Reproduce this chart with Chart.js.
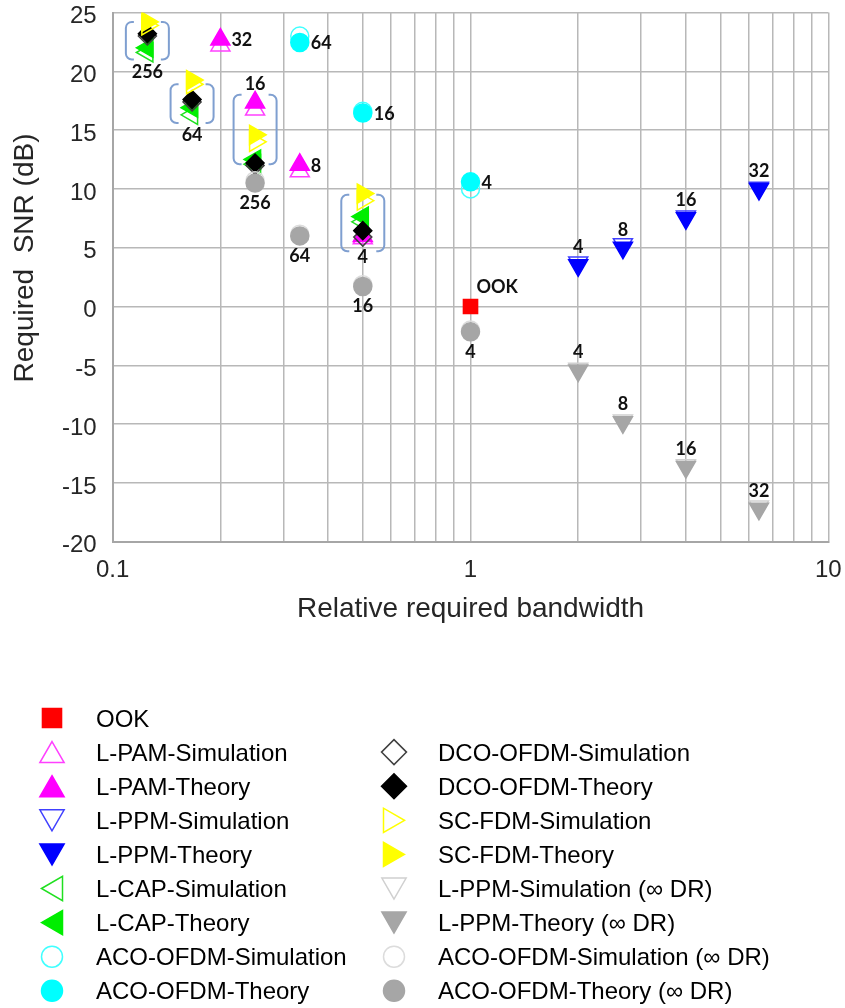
<!DOCTYPE html>
<html>
<head>
<meta charset="utf-8">
<script src="https://cdn.jsdelivr.net/npm/chart.js"></script>
<style>
  html, body { margin: 0; padding: 0; background: #fff; }
  #chart { display: block; }
</style>
</head>
<body>
<canvas id="chart" width="845" height="1008"></canvas>
<script>
// relative bandwidth (x) and required SNR in dB (y) for each scheme
const ookBw = [1];
const ookSnr = [0];

const lpamBw = [0.2, 0.25, 1 / 3, 0.5];            // L = 32, 16, 8, 4
const lpamSim = [22.2, 16.75, 11.5, 5.8];
const lpamTheory = [22.7, 17.35, 12.05, 6.0];

const lppmBw = [2, 8 / 3, 4, 6.4];                 // L = 4, 8, 16, 32
const lppmSim = [3.75, 5.3, 7.65, 10.1];
const lppmTheory = [3.5, 5.0, 7.5, 10.0];

const qamBw = [0.125, 1 / 6, 0.25, 0.5];           // M = 256, 64, 16, 4
const lcapSim = [21.6, 16.3, 12.1, 7.2];
const lcapTheory = [22.0, 16.9, 12.5, 7.65];
const dcoSim = [23.0, 17.4, 12.0, 5.9];
const dcoTheory = [23.2, 17.6, 12.2, 6.45];
const scfdmSim = [23.9, 18.9, 14.0, 9.0];
const scfdmTheory = [24.2, 19.25, 14.6, 9.6];

const acoBw = [1 / 3, 0.5, 1];                     // M = 64, 16, 4
const acoSim = [23.0, 16.6, 10.0];
const acoTheory = [22.45, 16.45, 10.6];

const lppmInfSim = [-5.3, -9.7, -13.5, -17.0];     // same bandwidths as lppmBw
const lppmInfTheory = [-5.45, -9.85, -13.65, -17.2];

const acoInfBw = [0.25, 1 / 3, 0.5, 1];            // M = 256, 64, 16, 4
const acoInfSim = [10.7, 6.15, 1.85, -2.0];
const acoInfTheory = [10.5, 6.0, 1.7, -2.15];

// axis ticks
const bwTicks = [0.1, 0.2, 0.3, 0.4, 0.5, 0.6, 0.7, 0.8, 0.9, 1, 2, 3, 4, 5, 6, 7, 8, 9, 10];
const bwLabelled = [0.1, 1, 10];

// blue brackets grouping the QAM-based schemes
const bracketBw = qamBw;
const bracketTop = [24.2, 18.9, 18.0, 9.5];
const bracketBottom = [21.0, 15.6, 12.1, 4.7];

// modulation order tags
const orderTags = [
  { text: '256', x: qamBw[0], y: lcapSim[0], at: 'below' },
  { text: '64', x: qamBw[1], y: lcapSim[1], at: 'below' },
  { text: '16', x: lpamBw[1], y: lpamTheory[1], at: 'above' },
  { text: '4', x: qamBw[3], y: dcoSim[3], at: 'below' },
  { text: '32', x: lpamBw[0], y: lpamTheory[0], at: 'right' },
  { text: '8', x: lpamBw[2], y: lpamTheory[2], at: 'right' },
  { text: '64', x: acoBw[0], y: acoTheory[0], at: 'right' },
  { text: '16', x: acoBw[1], y: acoTheory[1], at: 'right' },
  { text: '4', x: acoBw[2], y: acoTheory[2], at: 'right' },
  { text: '256', x: acoInfBw[0], y: acoInfTheory[0], at: 'below' },
  { text: '64', x: acoInfBw[1], y: acoInfTheory[1], at: 'below' },
  { text: '16', x: acoInfBw[2], y: acoInfTheory[2], at: 'below' },
  { text: '4', x: acoInfBw[3], y: acoInfTheory[3], at: 'below' },
  { text: 'OOK', x: ookBw[0], y: ookSnr[0], at: 'aboveRight' },
  { text: '4', x: lppmBw[0], y: lppmTheory[0], at: 'above' },
  { text: '8', x: lppmBw[1], y: lppmTheory[1], at: 'above' },
  { text: '16', x: lppmBw[2], y: lppmTheory[2], at: 'above' },
  { text: '32', x: lppmBw[3], y: lppmTheory[3], at: 'above' },
  { text: '4', x: lppmBw[0], y: lppmInfTheory[0], at: 'above' },
  { text: '8', x: lppmBw[1], y: lppmInfTheory[1], at: 'above' },
  { text: '16', x: lppmBw[2], y: lppmInfTheory[2], at: 'above' },
  { text: '32', x: lppmBw[3], y: lppmInfTheory[3], at: 'above' }
];

const FONT = "'Liberation Sans', Arial, sans-serif";

function pts(xs, ys) {
  return xs.map((x, i) => ({ x: x, y: ys[i] }));
}

function series(label, xs, ys, style, rotation, fill, stroke, radius) {
  return {
    label: label,
    data: pts(xs, ys),
    pointStyle: style,
    rotation: rotation,
    pointRadius: radius,
    backgroundColor: fill,
    borderColor: stroke,
    borderWidth: 1.5,
    showLine: false
  };
}

const NONE = 'rgba(255,255,255,0)';
const datasets = [
  series('OOK', ookBw, ookSnr, 'rect', 0, '#ff0000', '#ff0000', 10),
  series('L-PAM-Simulation', lpamBw, lpamSim, 'triangle', 0, NONE, '#ff40ff', 11),
  series('L-PAM-Theory', lpamBw, lpamTheory, 'triangle', 0, '#ff00ff', '#ff00ff', 11),
  series('L-PPM-Simulation', lppmBw, lppmSim, 'triangle', 180, NONE, '#4040ff', 11),
  series('L-PPM-Theory', lppmBw, lppmTheory, 'triangle', 180, '#0000ff', '#0000ff', 11),
  series('L-CAP-Simulation', qamBw, lcapSim, 'triangle', 270, NONE, '#20e020', 11),
  series('L-CAP-Theory', qamBw, lcapTheory, 'triangle', 270, '#00ee00', '#00ee00', 11),
  series('ACO-OFDM-Simulation', acoBw, acoSim, 'circle', 0, NONE, '#40ffff', 9),
  series('ACO-OFDM-Theory', acoBw, acoTheory, 'circle', 0, '#00ffff', '#00ffff', 9),
  series('DCO-OFDM-Simulation', qamBw, dcoSim, 'rectRot', 0, NONE, '#404040', 9),
  series('DCO-OFDM-Theory', qamBw, dcoTheory, 'rectRot', 0, '#000000', '#000000', 9),
  series('SC-FDM-Simulation', qamBw, scfdmSim, 'triangle', 90, NONE, '#ffff00', 11),
  series('SC-FDM-Theory', qamBw, scfdmTheory, 'triangle', 90, '#ffff00', '#ffff00', 11),
  series('L-PPM-Simulation (\u221e DR)', lppmBw, lppmInfSim, 'triangle', 180, NONE, '#d0d0d0', 11),
  series('L-PPM-Theory (\u221e DR)', lppmBw, lppmInfTheory, 'triangle', 180, '#a6a6a6', '#a6a6a6', 11),
  series('ACO-OFDM-Simulation (\u221e DR)', acoInfBw, acoInfSim, 'circle', 0, NONE, '#dcdcdc', 9),
  series('ACO-OFDM-Theory (\u221e DR)', acoInfBw, acoInfTheory, 'circle', 0, '#a6a6a6', '#a6a6a6', 9)
];
// later series are painted on top
datasets.forEach((d, i) => { d.order = datasets.length - i; });

const bracketPlugin = {
  id: 'brackets',
  afterDatasetsDraw(chart) {
    const { ctx, scales: { x, y } } = chart;
    ctx.save();
    ctx.strokeStyle = '#7f9fd0';
    ctx.lineWidth = 2;
    const half = 21.5, arm = 8, r = 6;
    bracketBw.forEach((bw, i) => {
      const cx = x.getPixelForValue(bw);
      const top = y.getPixelForValue(bracketTop[i]);
      const bot = y.getPixelForValue(bracketBottom[i]);
      [-1, 1].forEach(side => {
        const ex = cx + side * half;
        const ix = ex - side * arm;
        ctx.beginPath();
        ctx.moveTo(ix, top);
        ctx.arcTo(ex, top, ex, top + r, r);
        ctx.lineTo(ex, bot - r);
        ctx.arcTo(ex, bot, ix, bot, r);
        ctx.lineTo(ix, bot);
        ctx.stroke();
      });
    });
    ctx.restore();
  }
};

const tagPlugin = {
  id: 'orderTags',
  afterDatasetsDraw(chart) {
    const { ctx, scales: { x, y } } = chart;
    ctx.save();
    ctx.fillStyle = '#111';
    ctx.font = "bold 18px Lato, 'Open Sans', sans-serif";
    ctx.textBaseline = 'middle';
    orderTags.forEach(t => {
      const px = x.getPixelForValue(t.x);
      const py = y.getPixelForValue(t.y);
      if (t.at === 'below') {
        ctx.textAlign = 'center';
        ctx.fillText(t.text, px, py + 20);
      } else if (t.at === 'above') {
        ctx.textAlign = 'center';
        ctx.fillText(t.text, px, py - 18);
      } else if (t.at === 'right') {
        ctx.textAlign = 'left';
        ctx.fillText(t.text, px + 11, py + 1);
      } else {
        ctx.textAlign = 'left';
        ctx.fillText(t.text, px + 6, py - 19);
      }
    });
    ctx.restore();
  }
};

const yTitlePlugin = {
  id: 'yTitle',
  afterDraw(chart) {
    const { ctx } = chart;
    ctx.save();
    ctx.translate(25, 258);
    ctx.rotate(-Math.PI / 2);
    ctx.font = '28px ' + FONT;
    ctx.fillStyle = '#262626';
    ctx.textAlign = 'center';
    ctx.textBaseline = 'middle';
    ctx.fillText('Required  SNR (dB)', 0, 0);
    ctx.restore();
  }
};

// two-column key below the plot
const keyLeft = [0, 1, 2, 3, 4, 5, 6, 7, 8];
const keyRight = [null, 9, 10, 11, 12, 13, 14, 15, 16];

const keyPlugin = {
  id: 'key',
  afterDraw(chart) {
    const { ctx } = chart;
    const sets = chart.data.datasets;
    const rowY = i => 718 + i * 34.1;
    const drawItem = (idx, mx, tx, ry) => {
      const d = sets[idx];
      let r = d.pointStyle === 'triangle' ? 14 : d.pointStyle === 'rect' ? 13.5 : d.pointStyle === 'rectRot' ? 12.5 : 10.5;
      let ox = 0, oy = 0;
      if (d.pointStyle === 'triangle') {
        if (d.rotation === 0) oy = r / 4;
        else if (d.rotation === 180) oy = -r / 4;
        else if (d.rotation === 90) ox = -r / 4;
        else ox = r / 4;
      }
      ctx.save();
      ctx.fillStyle = d.backgroundColor;
      ctx.strokeStyle = d.borderColor;
      ctx.lineWidth = 1.5;
      Chart.helpers.drawPoint(ctx, { pointStyle: d.pointStyle, rotation: d.rotation, radius: r, borderWidth: 1.5 }, mx + ox, ry + oy);
      ctx.restore();
      ctx.save();
      ctx.font = '24px ' + FONT;
      ctx.fillStyle = '#000';
      ctx.textAlign = 'left';
      ctx.textBaseline = 'middle';
      ctx.fillText(d.label, tx, ry + 2);
      ctx.restore();
    };
    keyLeft.forEach((idx, i) => { if (idx !== null) drawItem(idx, 52, 96, rowY(i)); });
    keyRight.forEach((idx, i) => { if (idx !== null) drawItem(idx, 394, 438, rowY(i)); });
  }
};

new Chart(document.getElementById('chart'), {
  type: 'scatter',
  data: { datasets: datasets },
  options: {
    responsive: false,
    animation: false,
    events: [],
    devicePixelRatio: 1,
    layout: { padding: { left: 0, top: 10, right: 16.7, bottom: 380.3 } },
    plugins: { legend: { display: false }, tooltip: { enabled: false } },
    scales: {
      x: {
        type: 'logarithmic',
        min: 0.1,
        max: 10,
        afterBuildTicks: s => { s.ticks = bwTicks.map(v => ({ value: v })); },
        afterFit: s => { s.height = 86; s.paddingLeft = 0; s.paddingRight = 0; },
        ticks: {
          autoSkip: false,
          maxRotation: 0,
          padding: 14,
          color: '#262626',
          font: { family: FONT, size: 24 },
          callback: v => (bwLabelled.some(b => Math.abs(b - v) < 1e-9) ? String(v) : '')
        },
        grid: { color: '#b8b8b8', lineWidth: 1.5, drawTicks: false },
        border: { color: '#a6a6a6', width: 2 },
        title: {
          display: true,
          text: 'Relative required bandwidth',
          color: '#262626',
          font: { family: FONT, size: 28 },
          padding: { top: 0, bottom: 2 }
        }
      },
      y: {
        min: -20,
        max: 25,
        afterFit: s => { s.width = 112.7; s.paddingTop = 0; s.paddingBottom = 0; },
        ticks: {
          stepSize: 5,
          padding: 16,
          labelOffset: 4,
          color: '#262626',
          font: { family: FONT, size: 24 }
        },
        grid: { color: '#b8b8b8', lineWidth: 1.5, drawTicks: false },
        border: { color: '#a6a6a6', width: 2 }
      }
    }
  },
  plugins: [bracketPlugin, tagPlugin, yTitlePlugin, keyPlugin]
});
</script>
</body>
</html>
